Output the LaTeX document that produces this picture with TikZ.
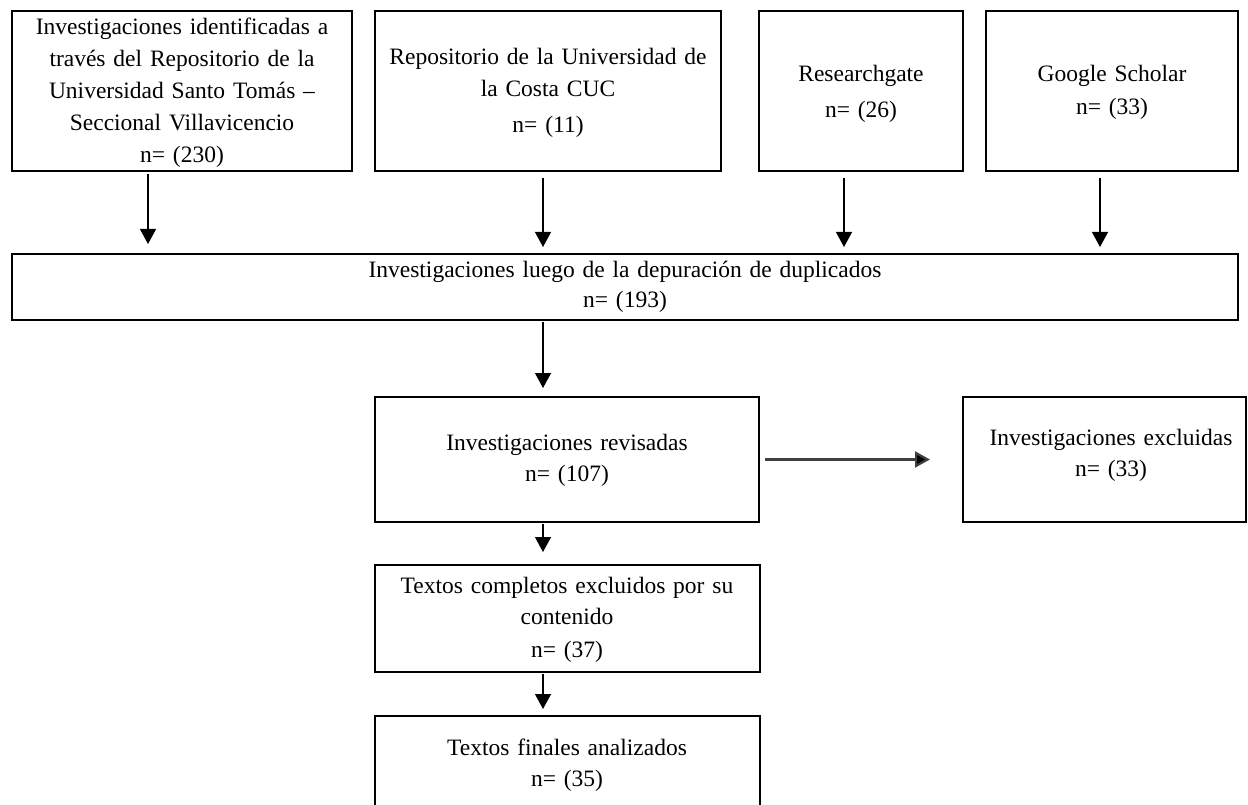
\documentclass[tikz,border=0pt]{standalone}
\usepackage{fontspec}
\setmainfont{Liberation Serif}
\usetikzlibrary{arrows.meta}
\tikzset{
  box/.style={draw=black, line width=2pt, inner sep=0pt, rectangle},
  txt/.style={anchor=base, text width=440pt, align=center, inner sep=0pt,
    font=\fontsize{23.5}{31.8}\selectfont},
  arr/.style={line width=1.2pt, -{Triangle[length=15pt,width=16pt]}},
  harr/.style={line width=2.2pt, draw=black!75, -{Triangle[length=15pt,width=16pt,fill=black]}}
}
\begin{document}
\begin{tikzpicture}[x=1pt,y=-1pt]
\useasboundingbox (0,0) rectangle (1248,805);
\clip (0,0) rectangle (1248,805);
\fill[white] (0,0) rectangle (1248,805);
% boxes
\node[box, minimum width=340pt, minimum height=160pt] (b1) at (182,91) {};
\node[box, minimum width=346pt, minimum height=160pt] (b2) at (548,91) {};
\node[box, minimum width=204pt, minimum height=160pt] (b3) at (861,91) {};
\node[box, minimum width=252pt, minimum height=160pt] (b4) at (1112,91) {};
\node[box, minimum width=1226pt, minimum height=66pt] (dep) at (625,287) {};
\node[box, minimum width=384pt, minimum height=125pt] (rev) at (567,459.5) {};
\node[box, minimum width=283pt, minimum height=125pt] (exc) at (1104.5,459.5) {};
\node[box, minimum width=385pt, minimum height=107pt] (tc) at (567.5,618.5) {};
\node[box, minimum width=385pt, minimum height=114pt] (tf) at (567.5,773) {};
% texts
\node[txt] (t1) at (182,35) {Investigaciones identificadas a\\ través del Repositorio de la\\ Universidad Santo Tomás –\\ Seccional Villavicencio\\ n= (230)};
\node[txt] (t2) at (548,65) {Repositorio de la Universidad de\\ la Costa CUC\\[4pt] n= (11)};
\node[txt] (t3) at (861,82) {Researchgate\\[4pt] n= (26)};
\node[txt] (t4) at (1112,82) {Google Scholar\\[1pt] n= (33)};
\node[txt, text width=800pt] (td) at (625,277) {Investigaciones luego de la depuración de duplicados\\[-1.5pt] n= (193)};
\node[txt] (tr) at (567,450) {Investigaciones revisadas\\ n= (107)};
\node[txt] (te) at (1111,445) {Investigaciones excluidas\\ n= (33)};
\node[txt] (ttc) at (567,593) {Textos completos excluidos por su\\ contenido\\[1pt] n= (37)};
\node[txt] (ttf) at (567,755) {Textos finales analizados\\ n= (35)};
% arrow x positions
\coordinate (x1) at (148,0);
\coordinate (x2) at (543,0);
\coordinate (x3) at (844,0);
\coordinate (x4) at (1100,0);
% connectors
\draw[arr, shorten <=2pt, shorten >=9pt] (b1.south -| x1) -- (dep.north -| x1);
\draw[arr, shorten <=6pt, shorten >=6pt] (b2.south -| x2) -- (dep.north -| x2);
\draw[arr, shorten <=6pt, shorten >=6pt] (b3.south -| x3) -- (dep.north -| x3);
\draw[arr, shorten <=6pt, shorten >=6pt] (b4.south -| x4) -- (dep.north -| x4);
\draw[arr, shorten <=1pt, shorten >=8pt] (dep.south -| x2) -- (rev.north -| x2);
\draw[harr, shorten <=5pt, shorten >=32pt] (rev.east) -- (exc.west);
\draw[arr, shorten <=1pt, shorten >=12pt] (rev.south -| x2) -- (tc.north -| x2);
\draw[arr, shorten <=1pt, shorten >=6pt] (tc.south -| x2) -- (tf.north -| x2);
\end{tikzpicture}
\end{document}
